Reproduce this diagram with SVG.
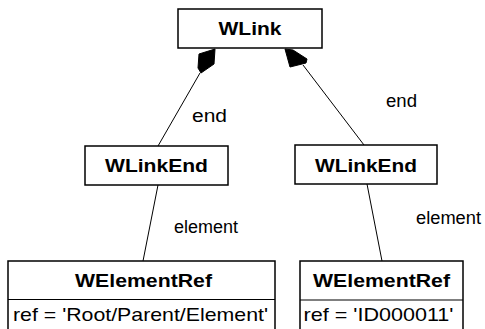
<svg xmlns="http://www.w3.org/2000/svg" width="485" height="329" viewBox="0 0 485 329">
  <style>
    .box { fill: #ffffff; stroke: #000000; stroke-width: 1.5; }
    .sep { stroke: #000000; stroke-width: 1.2; }
    .edge { fill: none; stroke: #000000; stroke-width: 1; }
    .diamond { fill: #000000; stroke: #000000; stroke-width: 1; stroke-linejoin: round; }
    .title { font-family: "Liberation Sans", Arial, sans-serif; font-size: 18.5px; font-weight: bold; fill: #000000; text-anchor: middle; }
    .attr { font-family: "Liberation Sans", Arial, sans-serif; font-size: 18.5px; fill: #000000; }
    .label { font-family: "Liberation Sans", Arial, sans-serif; font-size: 18px; fill: #000000; }
  </style>
  <rect width="485" height="329" fill="#ffffff"/>

  <!-- associations -->
  <g id="connectors">
    <line class="edge" x1="200" y1="73" x2="158" y2="146"/>
    <line class="edge" x1="303" y1="65" x2="364" y2="145"/>
    <line class="edge" x1="158" y1="185" x2="143" y2="261"/>
    <line class="edge" x1="367" y1="184" x2="382" y2="261"/>
    <!-- composition diamonds -->
    <polygon class="diamond" points="199,54 215,49 214,64 201,73 198,68"/>
    <polygon class="diamond" points="285,49 293,50 307,59 306,63 290,67"/>
    <text class="label" x="192" y="122" textLength="35" lengthAdjust="spacingAndGlyphs">end</text>
    <text class="label" x="386" y="107" textLength="31" lengthAdjust="spacingAndGlyphs">end</text>
    <text class="label" x="174" y="233" textLength="64" lengthAdjust="spacingAndGlyphs">element</text>
    <text class="label" x="416" y="224" textLength="65" lengthAdjust="spacingAndGlyphs">element</text>
  </g>

  <g id="wlink">
    <rect class="box" x="178" y="9" width="144" height="39"/>
    <text class="title" x="250" y="35" textLength="63" lengthAdjust="spacingAndGlyphs">WLink</text>
  </g>

  <g id="wlinkend-left">
    <rect class="box" x="85" y="146" width="143" height="39"/>
    <text class="title" x="156.5" y="171.5" textLength="103" lengthAdjust="spacingAndGlyphs">WLinkEnd</text>
  </g>

  <g id="wlinkend-right">
    <rect class="box" x="295" y="145" width="142" height="39"/>
    <text class="title" x="366" y="171.5" textLength="102" lengthAdjust="spacingAndGlyphs">WLinkEnd</text>
  </g>

  <g id="welementref-left">
    <rect class="box" x="8" y="261" width="267" height="80"/>
    <line class="sep" x1="8" y1="299.5" x2="275" y2="299.5"/>
    <text class="title" x="143.5" y="287" textLength="137" lengthAdjust="spacingAndGlyphs">WElementRef</text>
    <text class="attr" x="13" y="321" textLength="255" lengthAdjust="spacingAndGlyphs">ref = 'Root/Parent/Element'</text>
  </g>

  <g id="welementref-right">
    <rect class="box" x="300" y="261" width="163" height="80"/>
    <line class="sep" x1="300" y1="300" x2="463" y2="300"/>
    <text class="title" x="381.5" y="287" textLength="137" lengthAdjust="spacingAndGlyphs">WElementRef</text>
    <text class="attr" x="303.5" y="321" textLength="150" lengthAdjust="spacingAndGlyphs">ref = 'ID000011'</text>
  </g>
</svg>
